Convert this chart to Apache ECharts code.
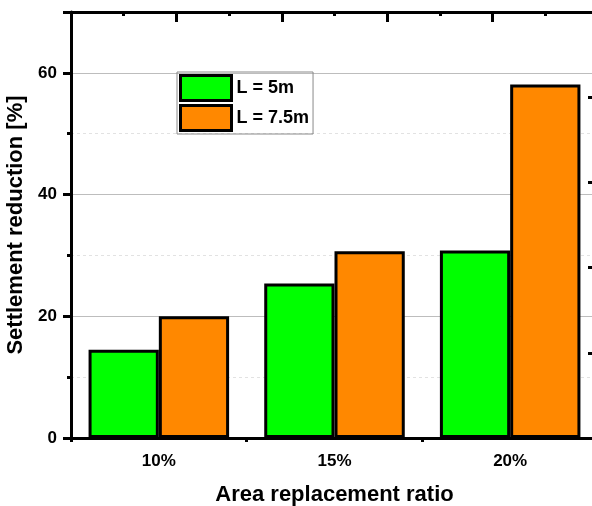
<!DOCTYPE html>
<html>
<head>
<meta charset="utf-8">
<script src="https://cdn.jsdelivr.net/npm/echarts@6/dist/echarts.min.js"></script>
<style>html,body{margin:0;padding:0;background:#fff;}#c{width:592px;height:506px;}</style>
</head>
<body>
<div id="c"></div>
<script>
const categories = ['10%', '15%', '20%'];
const seriesNames = ['L = 5m', 'L = 7.5m'];
const valuesL5 = [14.5, 25.4, 30.8];
const valuesL75 = [20.0, 30.7, 58.1];
const yTicks = [0, 20, 40, 60];

const FONT = '"Liberation Sans", Arial, sans-serif';
const chart = echarts.init(document.getElementById('c'), null, {renderer: 'canvas'});
const black = '#000';
chart.setOption({
  animation: false,
  backgroundColor: '#fff',
  textStyle: {fontFamily: FONT},
  grid: {left: 71, top: 12, width: 527, height: 426, containLabel: false, outerBoundsMode: 'none'},
  legend: {
    data: seriesNames,
    orient: 'vertical',
    left: 177, top: 72,
    icon: 'rect',
    itemWidth: 51, itemHeight: 25, itemGap: 2,
    padding: [2, 4, 2, 2],
    borderColor: '#8a8a8a', borderWidth: 1,
    textStyle: {fontFamily: FONT, fontSize: 18, fontWeight: 'bold', color: black},
    itemStyle: {borderColor: black, borderWidth: 3}
  },
  xAxis: [
    {
      type: 'category', position: 'bottom', data: categories,
      axisLine: {lineStyle: {color: black, width: 3}},
      axisTick: {alignWithLabel: true, length: 8, lineStyle: {color: black, width: 3}},
      axisLabel: {fontFamily: FONT, fontSize: 17, fontWeight: 'bold', color: black, margin: 15},
      name: 'Area replacement ratio', nameLocation: 'middle', nameGap: 46,
      nameTextStyle: {fontFamily: FONT, fontSize: 22, fontWeight: 'bold', color: black},
      splitLine: {show: false}
    },
    {
      type: 'category', position: 'bottom', data: categories,
      axisLine: {show: false},
      axisTick: {show: true, length: 4, lineStyle: {color: black, width: 3}},
      axisLabel: {show: false}, splitLine: {show: false}
    },
    {
      type: 'value', position: 'top', min: 0, max: 10, interval: 2,
      axisLine: {lineStyle: {color: black, width: 3}},
      axisTick: {inside: true, length: 10, lineStyle: {color: black, width: 3}},
      minorTick: {show: true, splitNumber: 2, length: 4, lineStyle: {color: black, width: 3}},
      axisLabel: {show: false}, splitLine: {show: false}
    }
  ],
  yAxis: [
    {
      type: 'value', position: 'left', min: 0, max: 70, interval: 20,
      axisLine: {show: true, lineStyle: {color: black, width: 3}},
      axisTick: {show: true, length: 8, lineStyle: {color: black, width: 3}},
      minorTick: {show: true, splitNumber: 2, length: 4, lineStyle: {color: black, width: 3}},
      axisLabel: {fontFamily: FONT, fontSize: 17, fontWeight: 'bold', color: black, margin: 14,
        showMaxLabel: false,
        formatter: v => (yTicks.indexOf(v) >= 0 ? String(v) : '')},
      splitLine: {show: true, lineStyle: {color: '#bdbdbd', width: 1}},
      minorSplitLine: {show: true, lineStyle: {color: '#e2e2e2', width: 1, type: [3, 3]}},
      name: 'Settlement reduction [%]', nameLocation: 'middle', nameGap: 31, nameRotate: 90,
      nameTextStyle: {fontFamily: FONT, fontSize: 22, fontWeight: 'bold', color: black}
    },
    {
      type: 'value', position: 'right', min: 0, max: 5, interval: 1,
      axisLine: {show: true, lineStyle: {color: black, width: 3}},
      axisTick: {show: true, inside: true, length: 10, lineStyle: {color: black, width: 3}},
      minorTick: {show: true, splitNumber: 2, length: 4, lineStyle: {color: black, width: 3}},
      axisLabel: {show: false}, splitLine: {show: false}
    }
  ],
  series: [
    {
      name: seriesNames[0], type: 'bar', xAxisIndex: 0, yAxisIndex: 0,
      data: valuesL5, barGap: '0%', barCategoryGap: '20%',
      itemStyle: {color: '#00ff00', borderColor: black, borderWidth: 3}
    },
    {
      name: seriesNames[1], type: 'bar', xAxisIndex: 0, yAxisIndex: 0,
      data: valuesL75, barGap: '0%', barCategoryGap: '20%',
      itemStyle: {color: '#ff8800', borderColor: black, borderWidth: 3}
    }
  ]
});
</script>
</body>
</html>
